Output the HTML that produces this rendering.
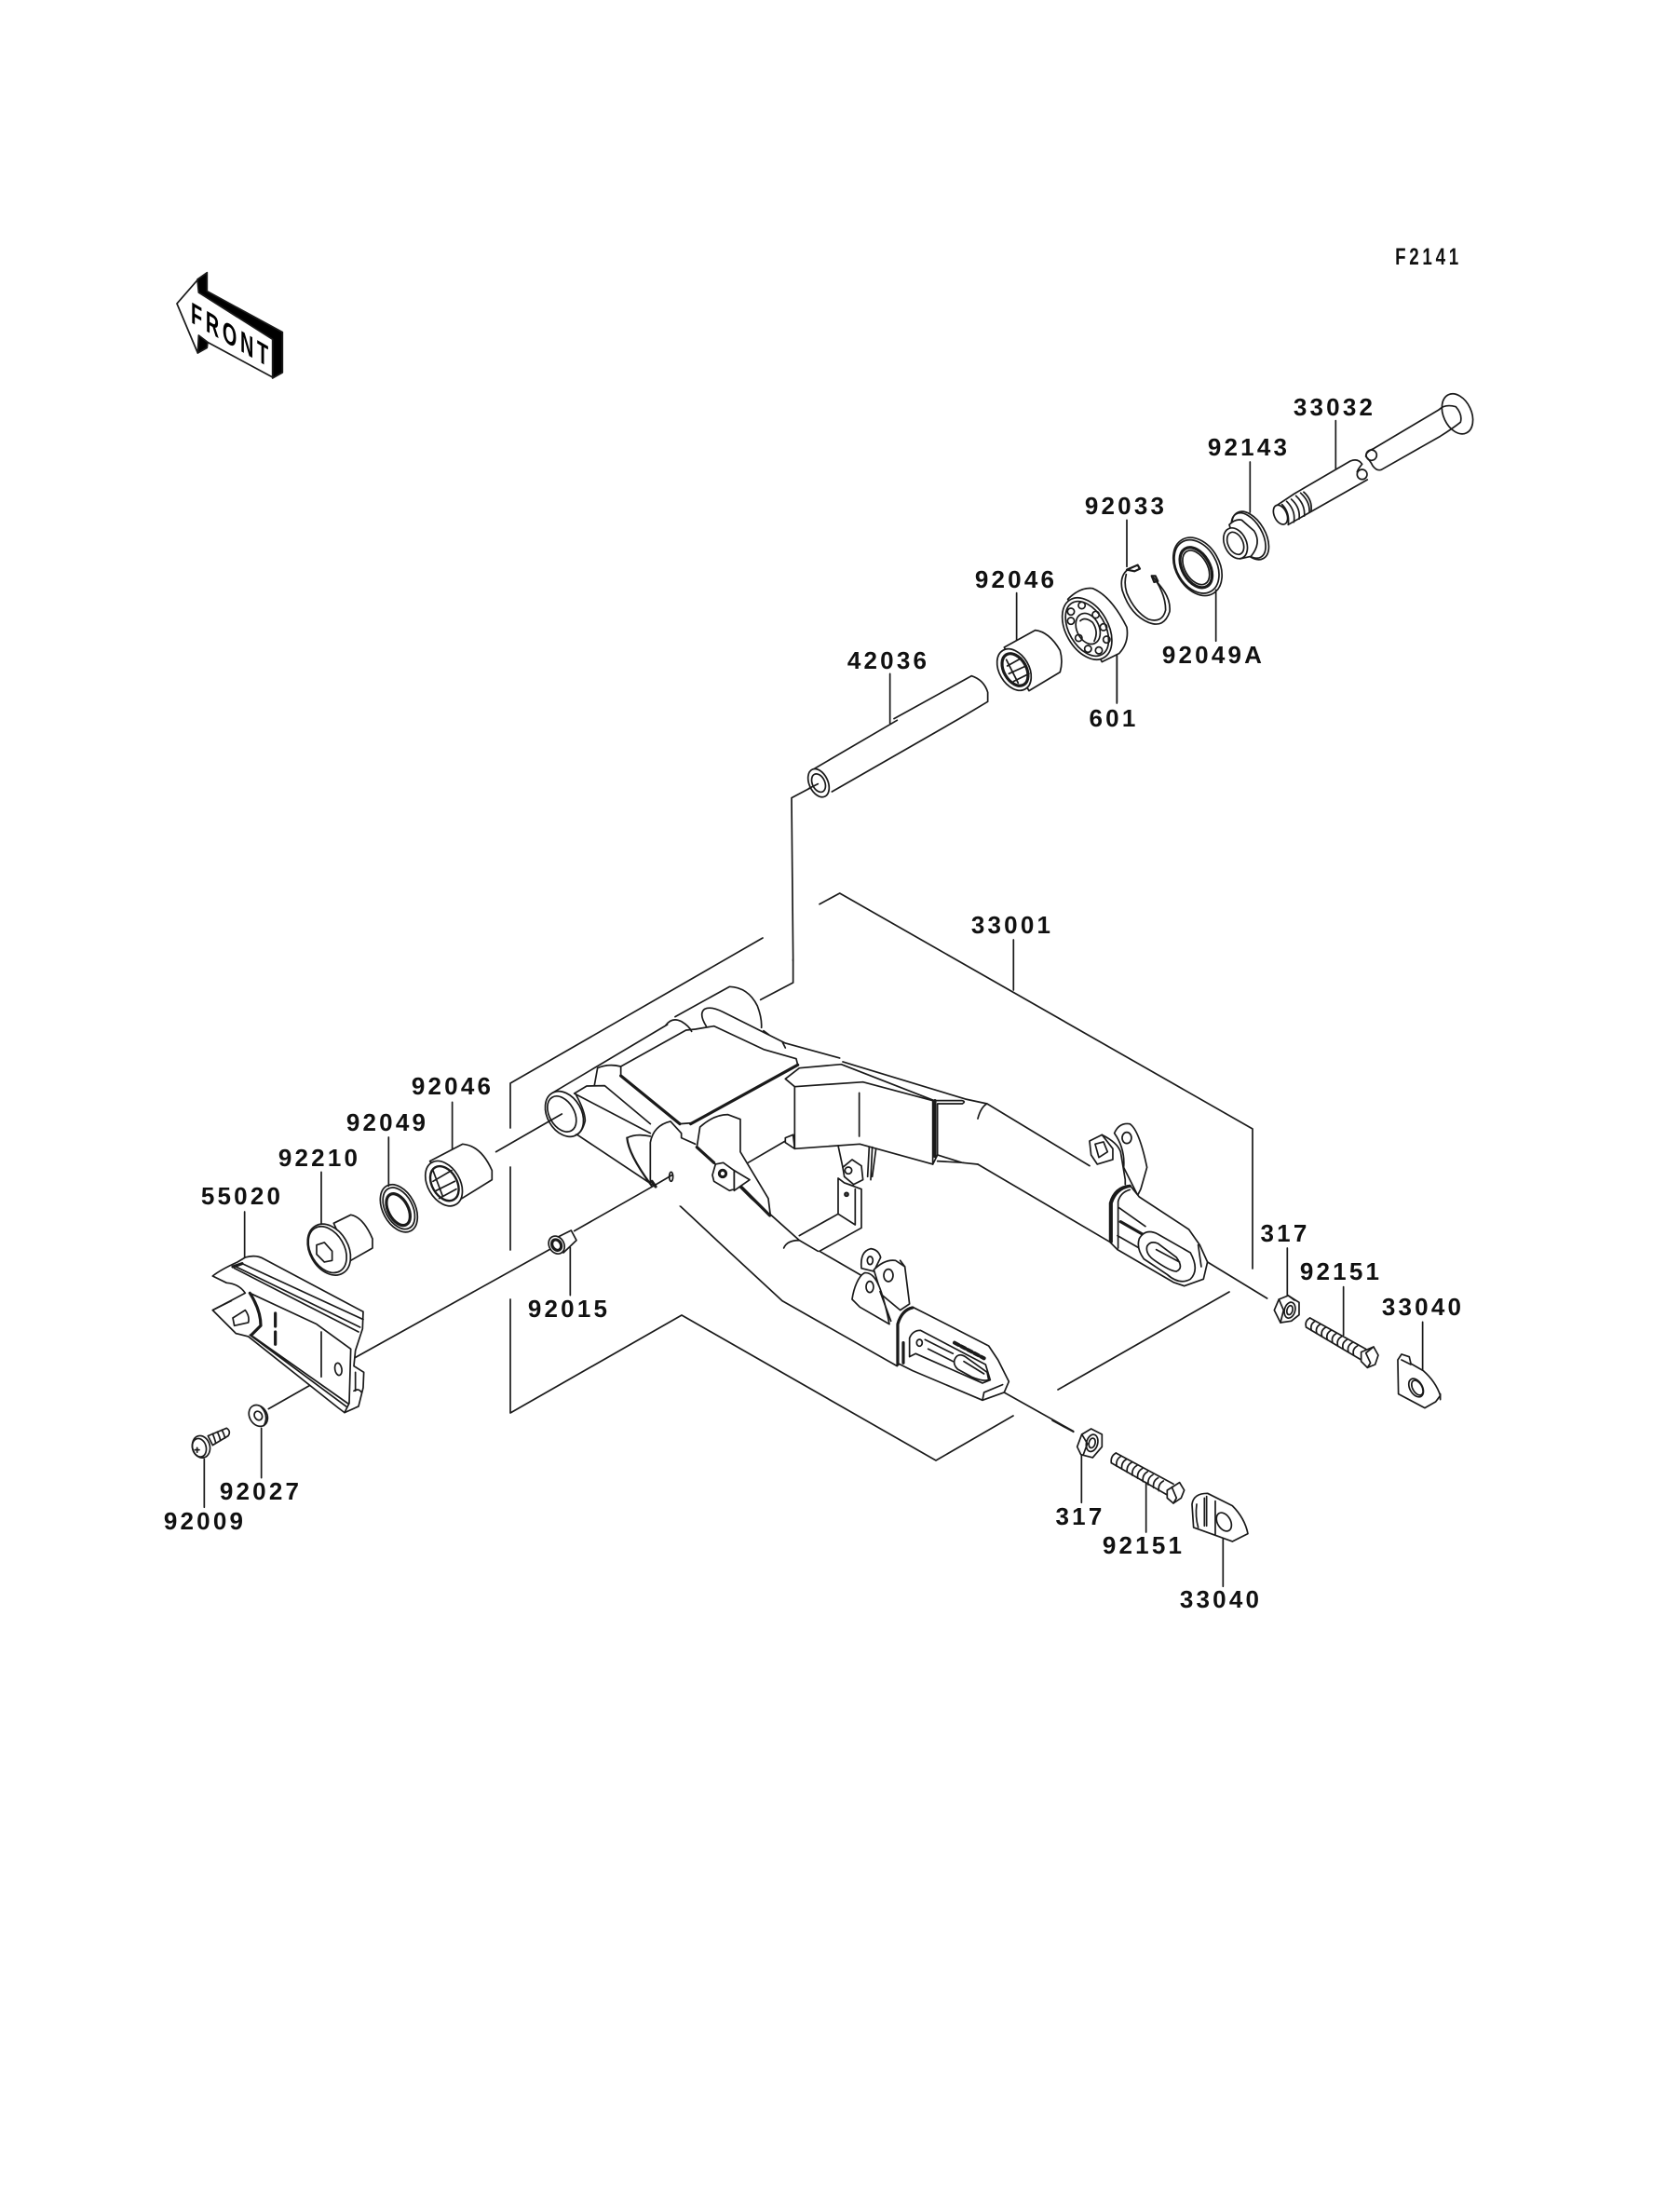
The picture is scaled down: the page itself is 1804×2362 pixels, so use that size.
<!DOCTYPE html>
<html><head><meta charset="utf-8"><title>Swingarm</title>
<style>
html,body{margin:0;padding:0;background:#fff;width:1804px;height:2362px;overflow:hidden}
svg{display:block}
.z *{vector-effect:non-scaling-stroke}
.z{fill:none;stroke:#1a1a1a;stroke-width:1.7;stroke-linejoin:round;stroke-linecap:round}
.w{fill:#fff}
.t{stroke-width:3.2}
.l text{font-family:"Liberation Sans",sans-serif;font-weight:bold;font-size:26px;letter-spacing:3.2px;text-anchor:middle;fill:#111}
</style></head><body>
<svg width="1804" height="2362" viewBox="0 0 1804 2362" xmlns="http://www.w3.org/2000/svg">
<rect width="1804" height="2362" fill="#fff"/>

<!-- FRONT arrow -->
<g transform="translate(160 270) scale(.3333)" class="z">
<path d="M156,90L187,68V128L430,260V390L398,408V283L160,135Z" fill="#000"/>
<path d="M160,270L190,285L187,310L157,327Z" fill="#000"/>
<path d="M90,168L156,92L160,132L398,283V405L190,293L160,270L157,327Z" fill="#fff"/>
</g>
<text transform="translate(205 346) skewY(30) scale(.62 1)" font-family="Liberation Sans,sans-serif" font-weight="bold" font-size="32" letter-spacing="6" fill="#000">FRONT</text>

<!-- Dimension brackets in page coords -->
<g class="z">
<path d="M880,970.7L901.7,959L1345,1212V1362M1136,1492L1320,1387M1088.3,1009V1063"/>
<path d="M819,1007L548,1163V1211M548,1253V1342M548,1395V1517L732,1412L1005,1568L1088,1520"/>
</g>

<!-- Upper right parts -->
<g transform="translate(1150 400) scale(.3333)" class="z">
<path d="M853,155V310M577,288V450M180,475V625M467,700V865M148,910V1062"/>
<!-- 33032 -->
<ellipse cx="1245" cy="133" rx="45" ry="68" transform="rotate(-25 1245 133)"/>
<path d="M1185,120Q1205,100 1240,110Q1262,135 1255,160Q1230,180 1190,205L1000,313Q985,318 972,300Q965,285 950,270Q950,255 975,245L1185,120"/>
<circle cx="968" cy="266" r="17"/>
<path d="M900,285Q925,275 938,295Q925,310 922,320M955,345L770,450L700,490M900,285L720,390L660,430"/>
<circle cx="938" cy="328" r="16"/>
<ellipse cx="675" cy="458" rx="20" ry="33" transform="rotate(-25 675 458)" class="w"/>
<path d="M680,425Q705,450 700,490M695,415Q725,445 718,482M710,408Q740,435 735,472M725,397Q755,425 752,462M740,388Q770,415 768,448M750,385Q778,410 774,445"/>
<!-- 92143 -->
<ellipse cx="578" cy="525" rx="48" ry="85" transform="rotate(-30 578 525)" class="w"/>
<ellipse cx="572" cy="525" rx="44" ry="80" transform="rotate(-30 572 525)"/>
<path class="w" d="M510,490Q530,470 550,475L590,510Q615,550 580,592L545,600Z"/>
<ellipse cx="530" cy="550" rx="35" ry="52" transform="rotate(-25 530 550)" class="w"/>
<ellipse cx="530" cy="550" rx="24" ry="38" transform="rotate(-25 530 550)"/>
<!-- 92049A -->
<ellipse cx="408" cy="625" rx="70" ry="100" transform="rotate(-30 408 625)"/>
<ellipse cx="405" cy="625" rx="64" ry="92" transform="rotate(-30 405 625)"/>
<ellipse cx="403" cy="628" rx="44" ry="70" transform="rotate(-30 403 628)" class="t"/>
<ellipse cx="403" cy="628" rx="36" ry="60" transform="rotate(-30 403 628)"/>
<!-- 92033 -->
<path d="M190,630Q155,650 165,700Q190,780 250,805Q300,825 318,770Q322,730 290,690L262,655"/>
<path d="M178,650Q170,680 180,710Q205,770 250,795Q295,808 305,765Q305,720 275,672"/>
<path d="M180,635L215,620L222,632L205,640Z" style="stroke-width:2.2"/>
<path d="M260,655L272,655L280,672L268,675Z" style="stroke-width:2.2"/>
</g>

<!-- Tube, roller, bearing -->
<g transform="translate(840 560) scale(.3333)" class="z">
<path d="M347,490V650M755,230V385M1078,430V585M115,845L30,890L35,1415"/>
<!-- 42036 -->
<path d="M105,795L370,640M360,635L610,497Q650,510 662,550V580L570,635L160,870"/>
<ellipse cx="117" cy="842" rx="30" ry="48" transform="rotate(-25 117 842)" class="w"/>
<ellipse cx="117" cy="842" rx="20" ry="31" transform="rotate(-25 117 842)"/>
<path d="M115,845L85,860"/>
<!-- 92046 -->
<path class="w" d="M715,405L815,350Q860,355 895,415Q905,450 895,485L795,545Z"/>
<ellipse cx="747" cy="477" rx="48" ry="72" transform="rotate(-30 747 477)" class="w"/>
<ellipse cx="750" cy="477" rx="36" ry="56" transform="rotate(-30 750 477)" class="t"/>
<path d="M725,465L770,440M730,490L785,465M745,515L795,490M722,445L760,520"/>
<!-- 601 -->
<path class="w" d="M920,250Q960,210 1000,215Q1060,240 1110,340Q1118,390 1085,425L1030,452Z"/>
<ellipse cx="982" cy="345" rx="68" ry="108" transform="rotate(-30 982 345)" class="w"/>
<ellipse cx="982" cy="345" rx="58" ry="96" transform="rotate(-30 982 345)"/>
<ellipse cx="985" cy="345" rx="36" ry="52" transform="rotate(-25 985 345)"/>
<path d="M960,320Q975,305 1000,325Q1020,355 1005,385"/>
<circle cx="930" cy="290" r="11"/><circle cx="965" cy="270" r="11"/><circle cx="1010" cy="300" r="11"/><circle cx="1035" cy="340" r="11"/><circle cx="1045" cy="380" r="11"/><circle cx="1020" cy="415" r="11"/><circle cx="985" cy="410" r="11"/><circle cx="955" cy="375" r="11"/><circle cx="930" cy="320" r="11"/>
</g>

<!-- Left swing arm -->
<g transform="translate(550 1030) scale(.3333)" class="z">
<path d="M905,0V75L800,130"/>
<path d="M130,430L500,210"/>
<path d="M495,212Q515,185 545,200Q570,215 578,232M525,185L700,88Q760,90 790,150Q805,190 803,220"/>
<path d="M625,215Q600,175 620,160Q640,150 680,170L880,270L1055,318M810,230L830,245M870,265L880,285"/>
<path d="M350,345L560,228L590,225L650,215L810,290L915,320L920,340"/>
<path class="t" d="M350,375L540,530M575,530L920,340"/>
<path d="M350,345V375M540,530L580,527"/>
<path d="M265,405L275,350Q310,335 350,345M200,432L240,408L298,407L445,530M200,432L445,560"/>
<path d="M205,562L450,725M460,730L520,775L670,915L870,1100L1240,1310"/>
<ellipse cx="168" cy="498" rx="55" ry="78" transform="rotate(-30 168 498)" class="w"/>
<ellipse cx="160" cy="498" rx="40" ry="62" transform="rotate(-30 160 498)"/>
<path d="M205,435Q235,490 235,520Q225,560 205,565"/>
<!-- gusset -->
<path class="w" d="M445,720V590Q455,535 510,522L545,560L548,580L590,595L595,605L725,725L830,825L700,760L510,800L460,730Z" style="stroke:none"/>
<path d="M445,720V590Q455,535 510,522L545,560V575L590,595"/>
<path d="M370,575Q400,560 445,570"/>
<path d="M370,575Q375,630 450,730" style="stroke-width:2.2"/>
<path class="t" d="M450,715L462,732"/>
<ellipse cx="512" cy="700" rx="6" ry="15" class="w"/>
<path d="M200,875L455,730L515,695M187,928V1082"/>
<!-- bracket -->
<path class="w" d="M595,605L605,540Q650,500 695,500L735,515V620L825,770L832,825L770,770L725,725Z"/>
<path class="t" d="M595,605L650,655M735,730L830,825"/>
<path class="w" d="M715,680L765,710L715,745Z"/>
<path class="w" d="M645,695L655,660L680,655L715,680V740L700,745L650,715Z"/>
<circle cx="678" cy="690" r="11" style="stroke-width:3"/>
<path d="M760,655L880,585M880,575L905,565L910,610L880,590Z"/>
<path d="M830,820L925,905L985,940M875,930Q885,905 925,905"/>
<!-- 92015 -->
<path class="w" d="M150,893L190,873L207,905L165,945Z"/>
<ellipse cx="143" cy="920" rx="24" ry="30" transform="rotate(-30 143 920)" class="w"/>
<ellipse cx="143" cy="920" rx="14" ry="18" transform="rotate(-30 143 920)" class="t"/>
</g>

<!-- Right swing arm -->
<g transform="translate(780 1120) scale(.3333)" class="z">
<path d="M375,60L770,180L840,195L1170,395M810,390L1235,640M810,243Q820,205 840,195"/>
<path class="w" d="M190,115L235,80L370,68L670,185H760Q772,188 760,195H680V360L665,390L430,325L220,340V140Z"/>
<path d="M220,140L440,125L665,185V390M428,160V300"/>
<path class="t" d="M672,185V365"/>
<path d="M680,360L760,385L810,390M680,380L765,385"/>
<path d="M360,330L375,400M460,335L455,430M470,335L465,440M482,340L470,430"/>
<path class="w" d="M375,400L405,375L435,395L440,440L410,455L380,430Z"/>
<circle cx="393" cy="410" r="11"/>
<path d="M360,435L380,450L435,470V595L300,670M360,435V550L235,620M360,550L415,585V470M380,450L410,460"/>
<circle cx="387" cy="487" r="6" fill="#444"/>
<path d="M300,670L550,815"/>
<!-- left ears -->
<path class="w" d="M435,725Q430,670 465,662Q490,665 497,690L475,735Z"/>
<ellipse cx="463" cy="700" rx="9" ry="13"/>
<path class="w" d="M475,730Q510,695 545,700L575,720L590,840L560,860L500,810Z"/>
<ellipse cx="522" cy="748" rx="15" ry="20"/>
<path class="w" d="M405,825C410,790 425,750 445,740C480,735 500,790 520,880L525,905L430,850Z"/>
<ellipse cx="462" cy="785" rx="12" ry="18"/>
<path d="M495,800L530,895M560,700L575,720"/>
<!-- left end plate -->
<path class="w" d="M550,1030V905Q565,855 600,850L640,870L845,975L875,1020L910,1090L895,1125L825,1150L600,1055L570,1040Z"/>
<path class="t" d="M552,1035V905Q565,860 600,852"/>
<path d="M590,1010V950Q600,925 625,925L835,1035L850,1085L825,1095L610,1000ZM640,955L730,1000M650,985L730,1025"/>
<path class="w" d="M735,1020Q745,995 770,1010L840,1060L845,1085Q825,1090 790,1075L745,1050Q730,1035 735,1020Z"/>
<path d="M765,1025L830,1065"/>
<path d="M735,965L830,1015" stroke-dasharray="5 3" style="stroke-width:4"/>
<path d="M825,1150L830,1125L890,1100"/>
<path d="M570,965V1030" class="t"/>
<ellipse cx="622" cy="965" rx="9" ry="11"/>
<path d="M895,1125L1118,1250"/>
<!-- right ears, nut -->
<path class="w" d="M1170,315L1210,295L1245,340V375L1195,390L1175,360Z"/>
<path d="M1188,325L1215,318L1228,350L1200,368Z"/>
<path d="M1210,295Q1260,320 1270,350L1285,440V455"/>
<path class="w" d="M1250,290Q1265,255 1300,260Q1330,280 1355,400L1335,470L1325,490L1280,400Q1285,340 1250,290Z"/>
<ellipse cx="1290" cy="305" rx="15" ry="18"/>
<!-- right end plate -->
<path class="w" d="M1235,640V515Q1250,462 1300,458L1330,495L1490,600L1525,650L1550,705L1537,760L1475,782L1440,770L1260,665Z"/>
<path class="t" d="M1240,640V515Q1255,468 1300,460"/>
<path d="M1262,660V510Q1270,480 1300,472"/>
<path class="t" d="M1270,575L1340,615"/>
<path d="M1265,530L1350,590M1260,620L1330,660M1520,650L1530,720"/>
<path class="w" d="M1330,630Q1350,595 1390,615L1495,675Q1525,730 1495,760Q1460,780 1420,745L1345,695Q1320,660 1330,630Z"/>
<path d="M1355,655Q1365,635 1390,645L1450,690Q1475,725 1450,735Q1430,735 1380,700Q1350,680 1355,655ZM1385,665L1460,705"/>
</g>

<!-- Lower left parts -->
<g transform="translate(200 1140) scale(.3333)" class="z">
<path d="M857,130V285M652,243V400M435,355V520M188,483V630M242,1180V1340M58,1280V1435"/>
<path d="M998,290L1210,168M540,955L1170,605M265,1118L490,990"/>
<!-- 92046 -->
<path class="w" d="M785,320L890,265Q950,270 985,350V380L880,445Z"/>
<ellipse cx="830" cy="392" rx="52" ry="78" transform="rotate(-30 830 392)" class="w"/>
<ellipse cx="832" cy="392" rx="40" ry="60" transform="rotate(-30 832 392)" style="stroke-width:2.4"/>
<path d="M795,385L855,350M805,415L865,385M815,440L870,410M795,350L825,430"/>
<!-- 92049 -->
<ellipse cx="685" cy="472" rx="52" ry="82" transform="rotate(-28 685 472)"/>
<ellipse cx="685" cy="472" rx="44" ry="72" transform="rotate(-28 685 472)"/>
<ellipse cx="683" cy="476" rx="32" ry="55" transform="rotate(-28 683 476)" class="t"/>
<!-- 92210 -->
<path class="w" d="M475,520L530,493Q570,500 600,570V600L530,640Z"/>
<ellipse cx="460" cy="605" rx="62" ry="88" transform="rotate(-30 460 605)" class="w"/>
<ellipse cx="455" cy="605" rx="54" ry="80" transform="rotate(-30 455 605)"/>
<path d="M420,590L445,582L470,610V640L445,645L420,620Z"/>
<!-- 55020 -->
<path class="w" d="M85,690Q110,670 165,645L190,630Q225,620 250,635L570,805L568,860L545,930L540,980L572,1000L570,1050L555,1110L510,1130L490,1115L200,885L160,875L85,800L190,745Q170,715 130,712L85,690Z"/>
<path d="M160,660L560,855M180,650L570,830M155,665L555,870"/>
<path class="t" d="M205,745Q240,800 240,850L210,880"/>
<path d="M205,745L420,845L530,925L525,1100L510,1130M205,880L515,1110M215,885L520,1100M435,870V1015"/>
<path d="M150,825L190,800Q205,820 200,840L155,850ZM85,800L145,770"/>
<path d="M287,810V910" stroke-dasharray="14 6" class="t"/>
<ellipse cx="490" cy="990" rx="11" ry="20" transform="rotate(-10 490 990)" class="w"/>
<path d="M545,1000V1060M540,1060Q555,1050 565,1065"/>
<path d="M150,660L180,650" class="t"/>
<!-- 92027 -->
<ellipse cx="232" cy="1140" rx="28" ry="36" transform="rotate(-30 232 1140)" class="w"/>
<path d="M240,1110Q268,1140 250,1172"/>
<ellipse cx="232" cy="1140" rx="12" ry="15" transform="rotate(-30 232 1140)"/>
<!-- 92009 -->
<path class="w" d="M70,1205L130,1180Q145,1190 135,1205L85,1235Z"/>
<path d="M85,1198Q92,1215 95,1228M100,1192Q108,1208 110,1220M115,1186Q122,1200 125,1212"/>
<ellipse cx="48" cy="1240" rx="28" ry="36" transform="rotate(-15 48 1240)" class="w"/>
<ellipse cx="42" cy="1243" rx="22" ry="30" transform="rotate(-15 42 1243)"/>
<path d="M28,1250H42M35,1243V1258"/>
</g>

<!-- Lower right hardware -->
<g transform="translate(1130 1310) scale(.3333)" class="z">
<path d="M500,135L692,252M757,90V243M938,215V370M1193,328V485M0,645L68,682M94,755V910M302,845V1005M550,1025V1180"/>
<!-- right nut -->
<path class="w" d="M715,290L730,255L760,243L795,265V305L770,325L735,330Z"/>
<ellipse cx="765" cy="290" rx="17" ry="26" transform="rotate(15 765 290)"/>
<ellipse cx="765" cy="290" rx="9" ry="15" transform="rotate(15 765 290)"/>
<path d="M730,255L745,290L735,330M760,243L780,258"/>
<!-- right bolt -->
<path d="M830,315L1010,415M818,345L995,450"/>
<path d="M830,315q-18,10 -12,30m29,-20q-18,10 -12,30m29,-20q-18,10 -12,30m29,-20q-18,10 -12,30m29,-20q-18,10 -12,30m29,-20q-18,10 -12,30m29,-20q-18,10 -12,30m29,-20q-18,10 -12,30m29,-20q-18,10 -12,30m29,-20q-18,10 -12,30"/>
<path class="w" d="M995,425L1035,408L1050,435L1040,465L1015,475L995,455Z"/>
<path d="M1010,428L1025,460L1015,475M1010,428L1035,408"/>
<!-- right 33040 -->
<path class="w" d="M1113,450L1125,432L1150,440L1155,462L1195,485Q1235,520 1250,565L1235,585L1200,605L1115,560Z"/>
<ellipse cx="1172" cy="540" rx="20" ry="32" transform="rotate(-30 1172 540)"/>
<ellipse cx="1176" cy="540" rx="15" ry="26" transform="rotate(-30 1176 540)"/>
<path d="M1125,450L1155,465M1250,560V578"/>
<!-- lower nut -->
<path class="w" d="M80,730L95,690L125,672L160,690V730L130,765L92,755Z"/>
<ellipse cx="128" cy="718" rx="18" ry="28" transform="rotate(15 128 718)"/>
<ellipse cx="128" cy="718" rx="10" ry="16" transform="rotate(15 128 718)"/>
<path d="M95,690L113,720L100,755"/>
<!-- lower bolt -->
<path d="M205,750L390,850M190,782L370,885"/>
<path d="M205,750q-18,10 -15,32m32,-22q-18,10 -15,32m32,-22q-18,10 -15,32m32,-22q-18,10 -15,32m32,-22q-18,10 -15,32m32,-22q-18,10 -15,32m32,-22q-18,10 -15,32m32,-22q-18,10 -15,32m32,-22q-18,10 -15,32m32,-22q-18,10 -15,32"/>
<path class="w" d="M370,870L410,845L425,870L415,895L390,912L370,895Z"/>
<path d="M385,860L400,895L390,912"/>
<!-- lower 33040 -->
<path class="w" d="M450,915Q455,880 500,880L580,920Q620,960 630,1010L580,1035L525,1015L455,990Z"/>
<ellipse cx="553" cy="972" rx="21" ry="32" transform="rotate(-30 553 972)"/>
<path d="M465,915Q460,955 470,990M490,895V985M497,890V985M525,905V1015"/>
</g>

<!-- Labels -->
<g class="l">
<text transform="translate(1534 284) scale(.75 1)" x="0" y="0" style="font-size:25px;letter-spacing:5px">F2141</text>
<text x="1433" y="446">33032</text>
<text x="1341" y="489">92143</text>
<text x="1209" y="552">92033</text>
<text x="1091" y="631">92046</text>
<text x="1303" y="712">92049A</text>
<text x="954" y="718">42036</text>
<text x="1196" y="780">601</text>
<text x="1087" y="1002">33001</text>
<text x="486" y="1175">92046</text>
<text x="416" y="1214">92049</text>
<text x="343" y="1252">92210</text>
<text x="260" y="1293">55020</text>
<text x="1380" y="1333">317</text>
<text x="1440" y="1374">92151</text>
<text x="1528" y="1412">33040</text>
<text x="611" y="1414">92015</text>
<text x="280" y="1610">92027</text>
<text x="220" y="1642">92009</text>
<text x="1160" y="1637">317</text>
<text x="1228" y="1668">92151</text>
<text x="1311" y="1726">33040</text>
</g>
</svg>
</body></html>
